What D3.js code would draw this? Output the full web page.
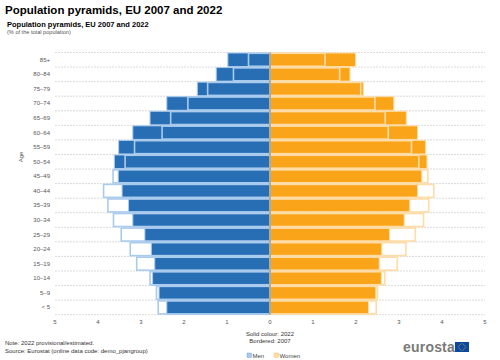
<!DOCTYPE html>
<html><head><meta charset="utf-8">
<script src="https://cdn.jsdelivr.net/npm/d3@7"></script>
<style>body{margin:0;background:#fff}svg{display:block;font-family:"Liberation Sans",Arial,sans-serif}</style>
</head><body><svg id="c" width="500" height="360"></svg>
<script>
const ages = ["85+","80–84","75–79","70–74","65–69","60–64","55–59","50–54","45–49","40–44","35–39","30–34","25–29","20–24","15–19","10–14","5–9","< 5"];
const men2022 = [0.98,1.25,1.69,2.40,2.79,3.19,3.52,3.62,3.53,3.44,3.29,3.19,2.91,2.76,2.68,2.73,2.58,2.40];
const men2007 = [0.50,0.85,1.45,1.91,2.31,2.51,3.15,3.37,3.65,3.87,3.77,3.64,3.46,3.25,3.10,2.79,2.64,2.60];
const women2022 = [1.99,1.86,2.17,2.88,3.17,3.43,3.62,3.65,3.53,3.43,3.25,3.12,2.78,2.60,2.54,2.59,2.46,2.29];
const women2007 = [1.28,1.62,2.11,2.44,2.68,2.75,3.29,3.46,3.67,3.81,3.69,3.57,3.38,3.16,2.96,2.67,2.50,2.47];
const xTicks = [-5,-4,-3,-2,-1,0,1,2,3,4,5];

const svg = d3.select("#c");
const C = {men:"#286eb4", women:"#faa519", menL:"#a9cbee", womenL:"#ffdca6", grid:"#d0d0d0", text:"#555"};

const x = d3.scaleLinear().domain([-5,5]).range([55,485]);
const y = d3.scaleBand().domain(ages).range([52.5,314.7]).padding(0);

// titles
svg.append("text").attr("x",5).attr("y",14).attr("font-size",11.5).attr("font-weight","bold").attr("fill","#000").text("Population pyramids, EU 2007 and 2022");
svg.append("text").attr("x",7).attr("y",27).attr("font-size",7.5).attr("font-weight","bold").attr("fill","#000").text("Population pyramids, EU 2007 and 2022");
svg.append("text").attr("x",7).attr("y",34).attr("font-size",5.6).attr("fill",C.text).text("(% of the total population)");

// grid
const gridYs = ages.map(a=>y(a)).concat([y(ages[ages.length-1])+y.bandwidth()]);
svg.append("g").selectAll("line").data(gridYs).join("line")
  .attr("x1",x(-5)).attr("x2",x(5)).attr("y1",d=>d).attr("y2",d=>d)
  .attr("stroke",C.grid).attr("stroke-width",0.8).attr("stroke-dasharray","2,1");

// y labels
svg.append("g").selectAll("text").data(ages).join("text")
  .attr("x",50).attr("y",d=>y(d)+y.bandwidth()/2+2).attr("text-anchor","end")
  .attr("font-size",6).attr("fill",C.text).text(d=>d);
svg.append("text").attr("transform","translate(23,157) rotate(-90)").attr("text-anchor","middle")
  .attr("font-size",6).attr("fill",C.text).text("Age");

// x tick labels
svg.append("g").selectAll("text").data(xTicks).join("text")
  .attr("x",d=>x(d)).attr("y",324).attr("text-anchor","middle")
  .attr("font-size",6).attr("fill",C.text).text(d=>Math.abs(d));

const bh = y.bandwidth();
// solid 2022 bars
svg.append("g").selectAll("rect").data(ages).join("rect")
  .attr("x",(d,i)=>x(-men2022[i])).attr("width",(d,i)=>x(0)-x(-men2022[i]))
  .attr("y",d=>y(d)+0.5).attr("height",bh-1)
  .attr("fill",C.men).attr("stroke",C.menL).attr("stroke-width",1);
svg.append("g").selectAll("rect").data(ages).join("rect")
  .attr("x",x(0)).attr("width",(d,i)=>x(women2022[i])-x(0))
  .attr("y",d=>y(d)+0.5).attr("height",bh-1)
  .attr("fill",C.women).attr("stroke",C.womenL).attr("stroke-width",1);
// bordered 2007 bars
svg.append("g").selectAll("rect").data(ages).join("rect")
  .attr("x",(d,i)=>x(-men2007[i])).attr("width",(d,i)=>x(0)-x(-men2007[i]))
  .attr("y",d=>y(d)+0.8).attr("height",bh-1.6)
  .attr("fill","none").attr("stroke",C.menL).attr("stroke-width",1.6);
svg.append("g").selectAll("rect").data(ages).join("rect")
  .attr("x",x(0)).attr("width",(d,i)=>x(women2007[i])-x(0))
  .attr("y",d=>y(d)+0.8).attr("height",bh-1.6)
  .attr("fill","none").attr("stroke",C.womenL).attr("stroke-width",1.6);

// zero line
svg.append("line").attr("x1",x(0)).attr("x2",x(0)).attr("y1",52.5).attr("y2",314.7)
  .attr("stroke","#6d7f96").attr("stroke-width",1);

// annotations
svg.append("text").attr("x",270).attr("y",336).attr("text-anchor","middle").attr("font-size",6).attr("fill","#333").text("Solid colour: 2022");
svg.append("text").attr("x",270).attr("y",343).attr("text-anchor","middle").attr("font-size",6).attr("fill","#333").text("Bordered: 2007");
svg.append("text").attr("x",5).attr("y",345).attr("font-size",6).attr("fill","#333").text("Note: 2022 provisional/estimated.");
svg.append("text").attr("x",5).attr("y",353).attr("font-size",6).attr("fill","#333").text("Source: Eurostat (online data code: demo_pjangroup)");

// legend
const leg = [{k:"Men",f:C.menL,s:C.men,x:247},{k:"Women",f:C.womenL,s:C.women,x:274}];
const lg = svg.append("g").selectAll("g").data(leg).join("g").attr("transform",d=>`translate(${d.x},353)`);
lg.append("rect").attr("width",4.5).attr("height",4.5).attr("fill",d=>d.f).attr("stroke",d=>d.s).attr("stroke-width",0.5).attr("stroke-opacity",0.5);
lg.append("text").attr("x",5.5).attr("y",4.5).attr("font-size",6).attr("fill","#444").text(d=>d.k);

// eurostat logo
svg.append("text").attr("x",403).attr("y",352).attr("font-size",14).attr("font-weight","bold").attr("fill","#7a7a7a").attr("letter-spacing",0.2).text("eurostat");
svg.append("rect").attr("x",455).attr("y",342).attr("width",14).attr("height",10).attr("fill","#0e47a1");
const stars = d3.range(12).map(i=>i*Math.PI/6);
svg.append("g").selectAll("circle").data(stars).join("circle")
  .attr("cx",d=>462+3.3*Math.cos(d)).attr("cy",d=>347+3.3*Math.sin(d)).attr("r",0.45).attr("fill","#ffdd00");
</script></body></html>
